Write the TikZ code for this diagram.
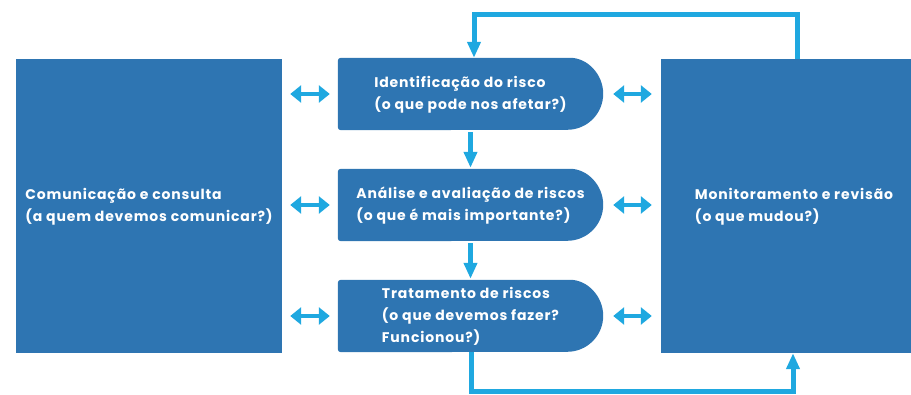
\documentclass[tikz,border=0pt]{standalone}
\usepackage{fontspec}
\setmainfont{Poppins}[LetterSpace=6]
\usetikzlibrary{arrows.meta,backgrounds}
\definecolor{boxblue}{HTML}{2E75B2}
\definecolor{arrblue}{HTML}{1FA8E0}
\newcommand{\stacktext}[1]{\begin{tabular}{@{}l@{}}#1\end{tabular}}
\newcommand{\stepshape}[1]{\fill[boxblue, rounded corners=3pt] (#1.south west) -- (#1.north west) -- ([xshift=-36pt]#1.north east) [sharp corners] arc[start angle=90, end angle=-90, radius=36pt] [rounded corners=3pt] -- cycle;}
\tikzset{x=1pt, y=-1pt,
  sidetip/.tip={Triangle[width=17pt,length=11pt]},
  downtip/.tip={Triangle[width=13pt,length=16pt]},
  bigbox/.style={fill=boxblue, text=white, minimum width=266pt, minimum height=294pt, inner sep=0pt, font=\bfseries\fontsize{14}{21.5}\selectfont},
  stepbox/.style={text=white, minimum width=265pt, minimum height=72pt, inner sep=0pt, font=\bfseries\fontsize{14}{22}\selectfont},
  link/.style={draw=arrblue, line width=5pt},
  twoway/.style={link, line width=4.5pt, sidetip-sidetip, shorten <=8pt, shorten >=8pt}}

\begin{document}
\begin{tikzpicture}
\useasboundingbox (0,0) rectangle (911,395);
\clip (0,0) rectangle (911,395);
\node[bigbox] (com) at (149,206) {\stacktext{Comunicação e consulta\\(a quem devemos comunicar?)}};
\node[bigbox] (mon) at (794,206) {\stacktext{Monitoramento e revisão\\(o que mudou?)}};
\node[stepbox] (ident) at (470.5,94) {\stacktext{Identificação do risco\\(o que pode nos afetar?)}};
\node[stepbox] (anal) at (470.5,205) {\stacktext{Análise e avaliação de riscos\\(o que é mais importante?)}};
\node[stepbox] (trat) at (470.5,316) {\stacktext{Tratamento de riscos\\(o que devemos fazer?\\Funcionou?)}};

\begin{scope}[on background layer]
\stepshape{ident}
\stepshape{anal}
\stepshape{trat}
\end{scope}

\coordinate (tl) at (474,15);
\coordinate (tr) at (797,15);
\coordinate (bl) at (471,392);
\coordinate (br) at (793,392);

\draw[twoway] (com.east |- ident) to (ident.west);
\draw[twoway] (com.east |- anal) to (anal.west);
\draw[twoway] (com.east |- trat) to (trat.west);
\draw[twoway, shorten <=10pt, shorten >=9pt] (ident.east) to (mon.west |- ident);
\draw[twoway, shorten <=10pt, shorten >=9pt] (anal.east) to (mon.west |- anal);
\draw[twoway, shorten <=10pt, shorten >=9pt] (trat.east) to (mon.west |- trat);

\draw[link, -downtip, shorten <=2pt, shorten >=1pt] (ident.south) to (anal.north);
\draw[link, -downtip, shorten <=2pt, shorten >=1pt] (anal.south) to (trat.north);
\draw[link, -downtip] (mon.north -| tr) -- (tr) -- (tl) -- (ident.north -| tl);
\draw[link, -downtip] (trat.south -| bl) -- (bl) -- (br) -- (mon.south -| br);
\end{tikzpicture}
\end{document}
